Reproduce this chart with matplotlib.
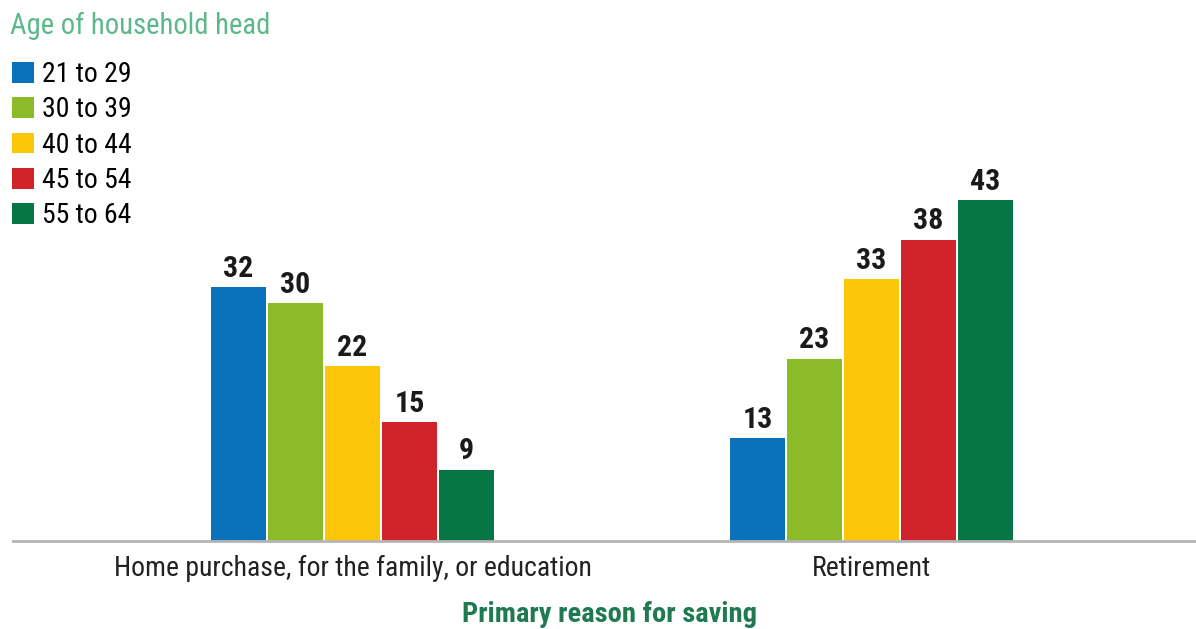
import numpy as np
import matplotlib
matplotlib.use("Agg")
import matplotlib.pyplot as plt

plt.rcParams.update({"font.family": ["Roboto Condensed", "DejaVu Sans"],
                     "font.stretch": "condensed"})

# ---------- data ----------
categories = ["Home purchase, for the family, or education", "Retirement"]
age_groups = ["21 to 29", "30 to 39", "40 to 44", "45 to 54", "55 to 64"]
values_21_29 = [32, 13]
values_30_39 = [30, 23]
values_40_44 = [22, 33]
values_45_54 = [15, 38]
values_55_64 = [9, 43]
series = [values_21_29, values_30_39, values_40_44, values_45_54, values_55_64]
colors = ["#0a72ba", "#8cbb2a", "#fdc608", "#d0232a", "#067744"]

fig = plt.figure(figsize=(11.96, 6.29), dpi=100)
ax = fig.add_axes([13 / 1196, 1 - 541 / 629, 1 - 13 / 1196, 541 / 629])

x = np.arange(len(categories))
step = 0.1098
width = 0.106
handles = []
for i, (vals, c, lab) in enumerate(zip(series, colors, age_groups)):
    pos = x + (i - 2) * step
    bars = ax.bar(pos, vals, width=width, color=c, label=lab)
    handles.append(bars)
    for b, v in zip(bars, vals):
        ax.annotate(f"{v}", (b.get_x() + b.get_width() / 2, v), xytext=(0, 3),
                    textcoords="offset points", ha="center", va="bottom",
                    fontsize=21.5, fontweight="bold", color="#1a1a1a")

ax.set_xlim(-0.654, 1.625)
ax.set_ylim(0, 68.2)
ax.set_yticks([])
ax.set_xticks(x)
ax.set_xticklabels(categories, fontsize=20, color="#222222")
ax.tick_params(axis="x", length=0, pad=10)
for s in ["top", "right", "left"]:
    ax.spines[s].set_visible(False)
ax.spines["bottom"].set_color("#b5b5b5")
ax.spines["bottom"].set_linewidth(2)

fig.text(10 / 1196, 1 - 26 / 629, "Age of household head", fontsize=20.6,
         color="#5cb88a", va="center", ha="left")
fig.text(610 / 1196, 1 - 614 / 629, "Primary reason for saving", fontsize=20.5,
         fontweight="bold", color="#1f7a52", va="center", ha="center")

ax.legend(handles=handles, loc="upper left", bbox_to_anchor=(12 / 1196, 1 - 61 / 629),
          bbox_transform=fig.transFigure, frameon=False, fontsize=20,
          handlelength=0.78, handleheight=0.78, handletextpad=0.3,
          labelspacing=0.3, borderaxespad=0, borderpad=0)

fig.savefig("out.png", dpi=100)
